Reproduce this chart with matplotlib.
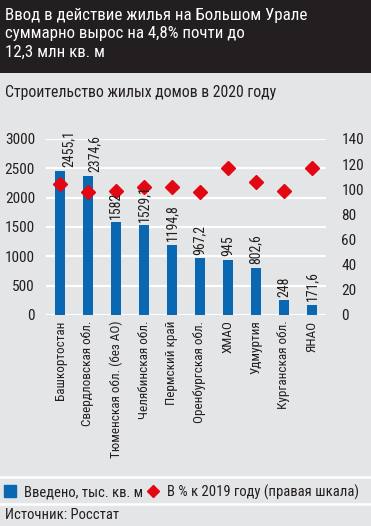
import matplotlib
matplotlib.use("Agg")
import matplotlib.pyplot as plt
from matplotlib import font_manager as fm
from matplotlib.patches import Rectangle
from matplotlib.lines import Line2D
import numpy as np

regions = ["Башкортостан", "Свердловская обл.", "Тюменская обл. (без АО)",
           "Челябинская обл.", "Пермский край", "Оренбургская обл.", "ХМАО",
           "Удмуртия", "Курганская обл.", "ЯНАО"]
built = [2455.1, 2374.6, 1582, 1529.1, 1194.8, 967.2, 945, 802.6, 248, 171.6]
pct_2019 = [104.0, 97.8, 98.9, 101.8, 101.6, 97.8, 117.2, 105.8, 98.6, 117.2]
left_ticks = [0, 500, 1000, 1500, 2000, 2500, 3000]
right_ticks = [0, 20, 40, 60, 80, 100, 120, 140]

title = "Ввод в действие жилья на Большом Урале\nсуммарно вырос на 4,8% почти до\n12,3 млн кв. м"
subtitle = "Строительство жилых домов в 2020 году"
legend_bar = "Введено, тыс. кв. м"
legend_pt = "В % к 2019 году (правая шкала)"
source = "Источник: Росстат"

# pick a narrow font if one is installed
entries = fm.fontManager.ttflist
names = {f.name for f in entries}
chosen = None
for cand in ["Liberation Sans Narrow", "Roboto Condensed", "Open Sans Condensed",
             "Noto Sans Condensed", "Arial Narrow", "DejaVu Sans Condensed"]:
    if cand in names:
        chosen = cand
        break
if chosen is None:
    narrow = sorted(n for n in names if ("Condensed" in n or "Narrow" in n)
                    and "Serif" not in n and "Mono" not in n)
    if narrow:
        chosen = narrow[0]
stretch = "normal"
if chosen is None:
    chosen = "DejaVu Sans"
    stretch = "condensed"

plt.rcParams['font.family'] = [chosen, "DejaVu Sans"]
plt.rcParams['font.stretch'] = stretch

BG = "#e4e5e6"
DARK = "#231f20"
BLUE = "#0a67b2"
RED = "#e30613"
TXT = "#231f20"

W, H = 371, 526
fig = plt.figure(figsize=(W / 100, H / 100), dpi=100)
fig.patch.set_facecolor(BG)

def fy(px):
    return 1 - px / H

def fx(px):
    return px / W

fig.add_artist(Rectangle((0, fy(73)), 1, 73 / H, transform=fig.transFigure,
                         facecolor=DARK, edgecolor="none", zorder=0))
fig.text(fx(5), fy(8), title, color="white", fontsize=12.2, va="top", ha="left",
         linespacing=1.28)
fig.text(fx(5), fy(93), subtitle, color=TXT, fontsize=11.3, va="center", ha="left")

for yy in (477, 504):
    fig.add_artist(Line2D([0, 1], [fy(yy), fy(yy)], transform=fig.transFigure,
                          color="white", lw=1.8))

ax = fig.add_axes([fx(46), fy(315), fx(326) - fx(46), fy(139) - fy(315)])
ax.set_facecolor("none")
x = np.arange(len(regions))
ax.set_xlim(-0.5, len(regions) - 0.5)
ax.set_ylim(0, 3000)
ax.set_yticks(left_ticks)
ax.yaxis.grid(True, color="white", lw=1.6)
ax.set_axisbelow(True)
for s in ax.spines.values():
    s.set_visible(False)
ax.tick_params(axis="both", length=0, colors=TXT)
ax.tick_params(axis="y", labelsize=11, pad=8)
ax.set_xticks(x)
ax.set_xticklabels(regions, rotation=90, fontsize=9.5, va="top", ha="center")
ax.tick_params(axis="x", pad=4)
ax.bar(x, built, width=0.33, color=BLUE, zorder=2)

ax2 = ax.twinx()
ax2.patch.set_visible(False)
ax2.set_ylim(0, 140)
ax2.set_yticks(right_ticks)
for s in ax2.spines.values():
    s.set_visible(False)
ax2.tick_params(axis="y", length=0, labelsize=11, pad=11, colors=TXT)
ax2.plot(x, pct_2019, linestyle="none", marker="D", markersize=7.5,
         color=RED, zorder=3)
ax.set_zorder(1)
ax2.set_zorder(2)

label_dx = [0.3, 0.25, 0, 0, 0, 0, 0, 0, 0, 0]
for xi, v, dx in zip(x, built, label_dx):
    s = ("%.1f" % v).replace(".", ",")
    if s.endswith(",0"):
        s = s[:-2]
    ax2.text(xi + dx, v + 60, s, rotation=90, ha="center", va="bottom",
             fontsize=10, color=TXT, zorder=5, clip_on=False,
             transform=ax.transData)

handles = [Line2D([], [], linestyle="none", marker="s", markersize=8, color=BLUE),
           Line2D([], [], linestyle="none", marker="D", markersize=6.5, color=RED)]
fig.legend(handles, [legend_bar, legend_pt], ncol=2, frameon=False,
           loc="center left", bbox_to_anchor=(fx(1), fy(492)), fontsize=10.5,
           handlelength=0.8, handletextpad=0.55, columnspacing=0.3,
           borderaxespad=0, borderpad=0.2, labelcolor=TXT)

fig.text(fx(5), fy(515), source, color=TXT, fontsize=10.5, va="center", ha="left")

fig.savefig("out.png", dpi=100, facecolor=fig.get_facecolor())
